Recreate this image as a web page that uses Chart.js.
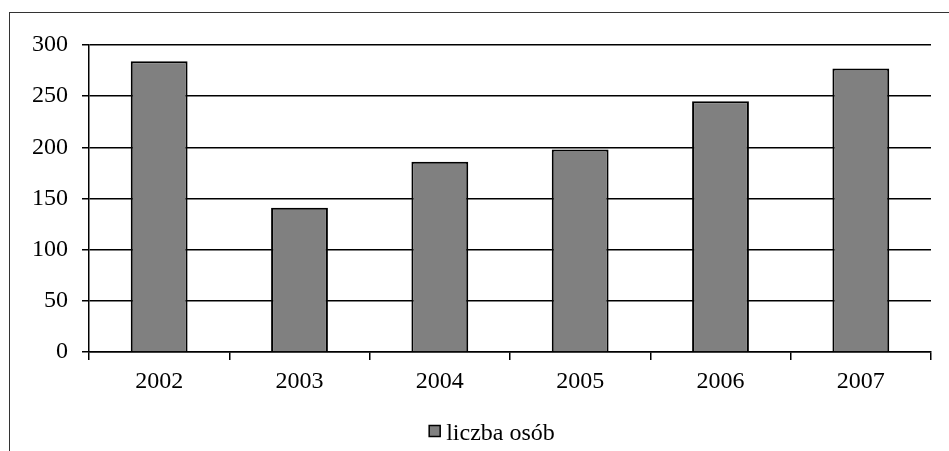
<!DOCTYPE html>
<html>
<head>
<meta charset="utf-8">
<script src="https://cdn.jsdelivr.net/npm/chart.js@4/dist/chart.umd.min.js"></script>
<style>
  html, body { margin: 0; padding: 0; background: #fff; overflow: hidden; }
  #wrap { position: relative; width: 949px; height: 451px; overflow: hidden; }
  #frame { position: absolute; left: 9px; top: 12px; width: 1000px; height: 500px;
           border: 1.5px solid #333; box-sizing: border-box; }
  canvas { position: absolute; left: 0; top: 0; }
</style>
</head>
<body>
<div id="wrap">
  <div id="frame"></div>
  <canvas id="c" width="949" height="451"></canvas>
</div>
<script>
const categories = ['2002', '2003', '2004', '2005', '2006', '2007'];
const seriesName = 'liczba osób';
const values = [284, 141, 186, 198, 245, 277];
const yMin = 0, yMax = 300, yStep = 50;

const FONT = '"Liberation Serif", "Times New Roman", serif';

// Simple legend drawn beneath the axis (box + gap + text, centred)
const legendPlugin = {
  id: 'customLegend',
  afterDraw(chart, args, opts) {
    const ctx = chart.ctx;
    const ds = chart.data.datasets[0];
    ctx.save();
    ctx.font = `${opts.fontSize}px ${FONT}`;
    const tw = ctx.measureText(ds.label).width;
    const total = opts.box + opts.gap + tw;
    const x0 = opts.centerX - total / 2;
    ctx.fillStyle = ds.backgroundColor;
    ctx.fillRect(x0, opts.boxTop, opts.box, opts.box);
    ctx.strokeStyle = '#000';
    ctx.lineWidth = 1.5;
    ctx.strokeRect(x0, opts.boxTop, opts.box, opts.box);
    ctx.fillStyle = '#000';
    ctx.textBaseline = 'alphabetic';
    ctx.textAlign = 'left';
    ctx.fillText(ds.label, x0 + opts.box + opts.gap, opts.baseline);
    ctx.restore();
  }
};

new Chart(document.getElementById('c'), {
  type: 'bar',
  data: {
    labels: categories,
    datasets: [{
      label: seriesName,
      data: values,
      backgroundColor: '#808080',
      borderColor: '#000',
      borderWidth: 2,
      categoryPercentage: 1.0,
      barPercentage: 0.405
    }]
  },
  plugins: [legendPlugin],
  options: {
    responsive: false,
    animation: false,
    devicePixelRatio: 1,
    layout: { padding: { left: 0, right: 18, top: 45, bottom: 42 } },
    plugins: {
      tooltip: { enabled: false },
      legend: { display: false },
      customLegend: { centerX: 492, boxTop: 425.5, box: 11, gap: 6, fontSize: 24, baseline: 440 }
    },
    scales: {
      x: {
        grid: { display: true, offset: true, drawOnChartArea: false, drawTicks: true, tickLength: 8, color: '#000', lineWidth: 1.5 },
        border: { display: true, color: '#000', width: 1.5 },
        ticks: { color: '#000', font: { family: FONT, size: 24 }, padding: 7, maxRotation: 0 },
        afterFit: s => { s.height = 57; }
      },
      y: {
        min: yMin, max: yMax,
        ticks: { stepSize: yStep, color: '#000', font: { family: FONT, size: 24 }, padding: 14 },
        grid: { display: true, color: '#000', lineWidth: 1.5, drawTicks: true, tickLength: 7 },
        border: { display: true, color: '#000', width: 1.5 },
        afterFit: s => { s.width = 89; }
      }
    }
  }
});
</script>
</body>
</html>
